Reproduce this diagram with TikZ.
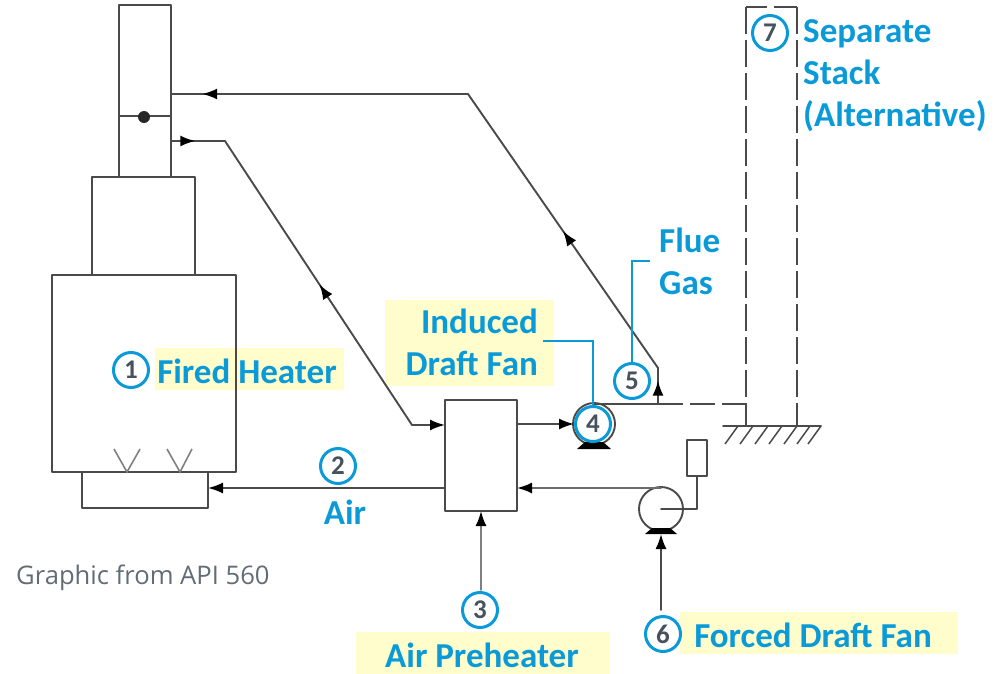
\documentclass[tikz,border=0pt]{standalone}
\usepackage{fontspec}
\setmainfont{Carlito}
\newfontfamily\capfont{Open Sans}
\usetikzlibrary{arrows.meta,decorations.markings}
\definecolor{callblue}{HTML}{0A9AD8}
\definecolor{numgray}{HTML}{46525E}
\definecolor{hilite}{HTML}{FEFDCB}
\definecolor{linegray}{HTML}{4A4A4A}
\tikzset{
  x=1pt,y=-1pt,
  pipe/.style={draw=linegray,line width=1.9pt,line cap=round,line join=round},
  ghost/.style={draw=linegray,line width=2pt,dash pattern=on 27pt off 6pt},
  ghosth/.style={draw=linegray,line width=2pt,dash pattern=on 25pt off 7pt},
  tip/.style={-{Latex[length=15pt,width=11pt,black]}},
  arrowat/.style={postaction={decorate},decoration={markings,mark=at position #1 with {\arrow{Latex[length=15pt,width=11pt,black]}}}},
  vessel/.style={pipe,fill=none,minimum width=0pt,inner sep=0pt},
  lbl/.style={text=callblue,font=\fontsize{35}{42}\selectfont\bfseries,inner sep=0pt},
  num/.style={circle,draw=callblue,line width=3pt,fill=white,minimum size=35pt,inner sep=0pt,text=numgray,font=\fontsize{27}{27}\selectfont\bfseries},
  call/.style={draw=callblue,line width=1.5pt,line join=miter},
}
\begin{document}
\begin{tikzpicture}
\useasboundingbox (0,0) rectangle (995,674);
% highlights
\fill[hilite] (155,348) rectangle (344,390);
\fill[hilite] (385,300) rectangle (554,386);
\fill[hilite] (680,612) rectangle (958,654);
\fill[hilite] (356,632) rectangle (610,674);
% heater body
\draw[pipe] (119,177) -- (119,5) -- (171,5) -- (171,177);
\draw[pipe] (119,116) -- (171,116);
\node[circle,fill=black!85,minimum size=12pt,inner sep=0pt] (damper) at (144,117) {};
\draw[pipe] (92,275) -- (92,177) -- (195,177) -- (195,275);
\draw[pipe] (52,472) rectangle (236,275);
\draw[pipe] (82,472) -- (82,508) -- (208,508) -- (208,472);
\coordinate (b1) at (127,472); \coordinate (b2) at (180,472);
\draw[draw=gray,line width=1.6pt] (114,449) -- (b1) -- (140,449);
\draw[draw=gray,line width=1.6pt] (167,449) -- (b2) -- (192,449);
% equipment
\node[vessel,draw,minimum width=72pt,minimum height=111pt] (aph) at (481,455.5) {};
\node[circle,pipe,minimum size=42pt,inner sep=0pt] (idf) at (594,424) {};
\node[circle,pipe,minimum size=44pt,inner sep=0pt] (fdf) at (661,509) {};
\node[vessel,draw,minimum width=20pt,minimum height=36pt] (motor) at (697,458) {};
\fill[black] (585,442) -- (603,442) -- (611,449) -- (577,449) -- cycle;
\fill[black] (652,528) -- (670,528) -- (677,534) -- (645,534) -- cycle;
% coordinates
\coordinate (ret) at (171,94);
\coordinate (apex1) at (468,94);
\coordinate (rise) at (658,368);
\coordinate (tee) at (658,404);
\coordinate (sup) at (171,141);
\coordinate (sup1) at (225,141);
\coordinate (sup2) at (412,425);
\coordinate (stackfoot) at (746,404);
\coordinate (airend) at (208,488);
\coordinate (airstart) at (445,488);
\coordinate (in3) at (481,590);
\coordinate (in6) at (661,610);
% flue gas path
\draw[pipe] (594,404) -- (tee);
\draw[pipe,arrowat=0.65] (tee) -- (rise);
\draw[pipe,arrowat=0.50] (rise) -- (apex1);
\draw[pipe,arrowat=0.895] (apex1) -- (ret);
\draw[ghosth] (tee) -- (stackfoot);
% hot air path
\draw[pipe,arrowat=0.45] (sup) -- (sup1);
\draw[pipe,arrowat=0.495] (sup2) -- (sup1);
\draw[pipe,tip] (sup2) -- (445,425);
\draw[pipe,tip] (517,424) -- (574,424);
\draw[pipe,tip] (airstart) -- (airend);
\draw[pipe,tip,draw=gray!85!black] (661,488) -- (517,488);
\draw[pipe,tip,draw=gray] (in3) -- (481,511);
\draw[pipe,tip] (in6) -- (661,534);
\draw[pipe] (661,509) -- (697,509) -- (motor.south);
% separate stack
\coordinate (stl) at (746,7);
\coordinate (str) at (796.5,7);
\draw[ghost] (stl) -- (746,426);
\draw[ghost] (str) -- (796.5,426);
\draw[draw=linegray,line width=2pt] (stl) -- ++(21,0);
\draw[draw=linegray,line width=2pt] (str) -- ++(-22.5,0);
\draw[pipe] (723,426) -- (821,426);
\foreach \hx in {738,753,768,782,797,810,821}
  \draw[draw=linegray,line width=1.5pt] (\hx,426) -- ++(-13,18);
% labels
\node[lbl] (fh) at (247,371) {Fired Heater};
\node[lbl,align=right,anchor=north east] (id) at (538,309) {Induced\\Draft Fan};
\node[lbl,align=left,anchor=north west] (flue) at (659,228) {Flue\\Gas};
\node[lbl,align=left,anchor=north west] (sep) at (803,19) {Separate\\Stack\\(Alternative)};
\node[lbl] (air) at (345,512) {Air};
\node[lbl] (ap) at (482,655) {Air Preheater};
\node[lbl] (fd) at (813,635) {Forced Draft Fan};
\node[text=numgray!85,font=\capfont\fontsize{25.6}{25.6}\selectfont,anchor=west,inner sep=0pt] (src) at (16,578) {Graphic from API 560};
% callouts
\coordinate (cid) at (543,341);
\coordinate (cfl) at (650,261);
\node[num] (n1) at (131,370) {1};
\node[num] (n2) at (338,466) {2};
\node[num] (n3) at (480,610) {3};
\node[num] (n4) at (593,424) {4};
\node[num] (n5) at (632,381) {5};
\node[num] (n6) at (663,634) {6};
\node[num] (n7) at (770,33) {7};
\draw[call] (cid) -| (n4.north);
\draw[call] (n5.north) |- (cfl);
\end{tikzpicture}
\end{document}
